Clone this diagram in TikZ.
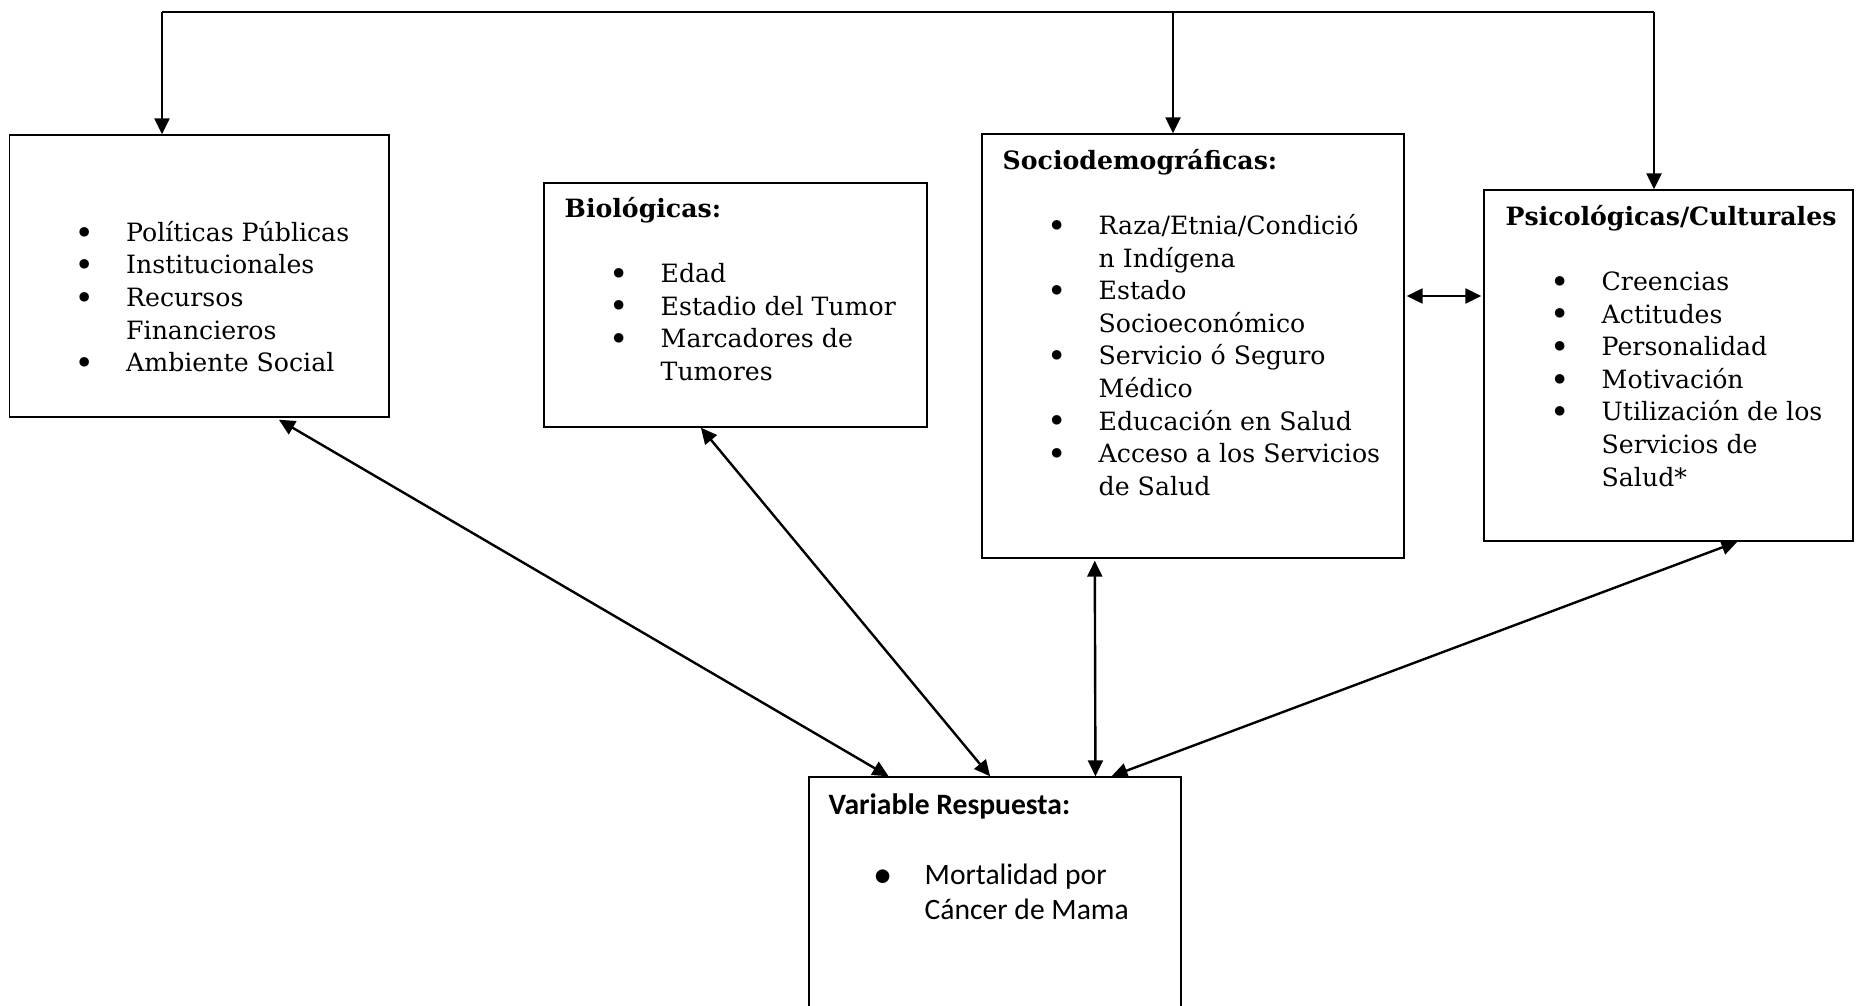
\documentclass[tikz,border=0pt]{standalone}
\usepackage{fontspec}
\setmainfont{DejaVu Serif}
\newfontfamily\calfont{Carlito}
\usetikzlibrary{arrows.meta,calc,fit}
\newcommand{\itm}[1]{\hspace*{23pt}\makebox[8pt][c]{\raisebox{-1.4pt}{\scalebox{1.3}{\textbullet}}}\hspace*{17pt}#1}
\newcommand{\cnt}[1]{\hspace*{48pt}#1}
\tikzset{
box/.style={draw, line width=0.7pt, inner sep=0pt},
txt/.style={anchor=base west, inner sep=0pt, font=\fontsize{12.6}{16.3}\selectfont},
arr/.style={line width=1.2pt, -{Triangle[length=8pt,width=7.5pt]}},
biarr/.style={line width=1.2pt, {Triangle[length=8pt,width=7.5pt]}-{Triangle[length=8pt,width=7.5pt]}}
}
\begin{document}
\begin{tikzpicture}[x=0.5pt,y=-0.5pt]
\useasboundingbox (0,0) rectangle (1859,1006);
\clip (0,0) rectangle (1859,1006);
\node[box, fit={(9.5,135) (389,417)}] (pol) {};
\node[box, fit={(544,183) (927,427)}] (bio) {};
\node[box, fit={(982,134) (1404,558)}] (soc) {};
\node[box, fit={(1484,190) (1853,541)}] (psi) {};
\node[box, fit={(809,777) (1181,1040)}] (var) {};
\node[txt] (polT) at ($(pol.north west)+(21,107)$) {\parbox[t]{200pt}{%
\itm{Políticas Públicas}\\
\itm{Institucionales}\\
\itm{Recursos}\\
\cnt{Financieros}\\
\itm{Ambiente Social}}};
\node[txt] (bioT) at ($(bio.north west)+(21,35)$) {\parbox[t]{200pt}{%
\textbf{Biológicas:}\\[16.3pt]
\itm{Edad}\\
\itm{Estadio del Tumor}\\
\itm{Marcadores de}\\
\cnt{Tumores}}};
\node[txt] (socT) at ($(soc.north west)+(21,36)$) {\parbox[t]{220pt}{%
\textbf{Sociodemográficas:}\\[16.3pt]
\itm{Raza/Etnia/Condició}\\
\cnt{n Indígena}\\
\itm{Estado}\\
\cnt{Socioeconómico}\\
\itm{Servicio ó Seguro}\\
\cnt{Médico}\\
\itm{Educación en Salud}\\
\itm{Acceso a los Servicios}\\
\cnt{de Salud}}};
\node[txt] (psiT) at ($(psi.north west)+(22,36)$) {\parbox[t]{220pt}{%
\textbf{Psicológicas/Culturales}\\[16.3pt]
\itm{Creencias}\\
\itm{Actitudes}\\
\itm{Personalidad}\\
\itm{Motivación}\\
\itm{Utilización de los}\\
\cnt{Servicios de}\\
\cnt{Salud*}}};
\node[txt, font=\calfont\fontsize{14.8}{17.5}\selectfont] (varT) at ($(var.north west)+(20,38)$) {\parbox[t]{200pt}{%
\textbf{Variable Respuesta:}\\[17.5pt]
\itm{Mortalidad por}\\
\cnt{Cáncer de Mama}}};
\coordinate (tl) at (162,12);
\coordinate (tm) at (1173,12);
\coordinate (tr) at (1654,12);
\coordinate (hm) at (1444,296);
\draw[line width=1.1pt] (tl) -- (tr);
\draw[arr] (tl) -- (tl |- pol.north);
\draw[arr] (tm) -- (tm |- soc.north);
\draw[arr] (tr) -- (tr |- psi.north);
\draw[biarr, shorten <=1pt, shorten >=1pt] (hm -| soc.east) -- (hm -| psi.west);
\draw[biarr, shorten <=2pt] ($(pol.south west)!0.70!(pol.south east)$) -- ($(var.north west)!0.215!(var.north east)$);
\draw[biarr] ($(bio.south west)!0.41!(bio.south east)$) -- ($(var.north west)!0.487!(var.north east)$);
\draw[biarr, shorten <=1pt] ($(soc.south west)!0.268!(soc.south east)$) -- ($(var.north west)!0.769!(var.north east)$);
\draw[biarr] ($(psi.south west)!0.686!(psi.south east)$) -- ($(var.north west)!0.812!(var.north east)$);
\end{tikzpicture}
\end{document}
